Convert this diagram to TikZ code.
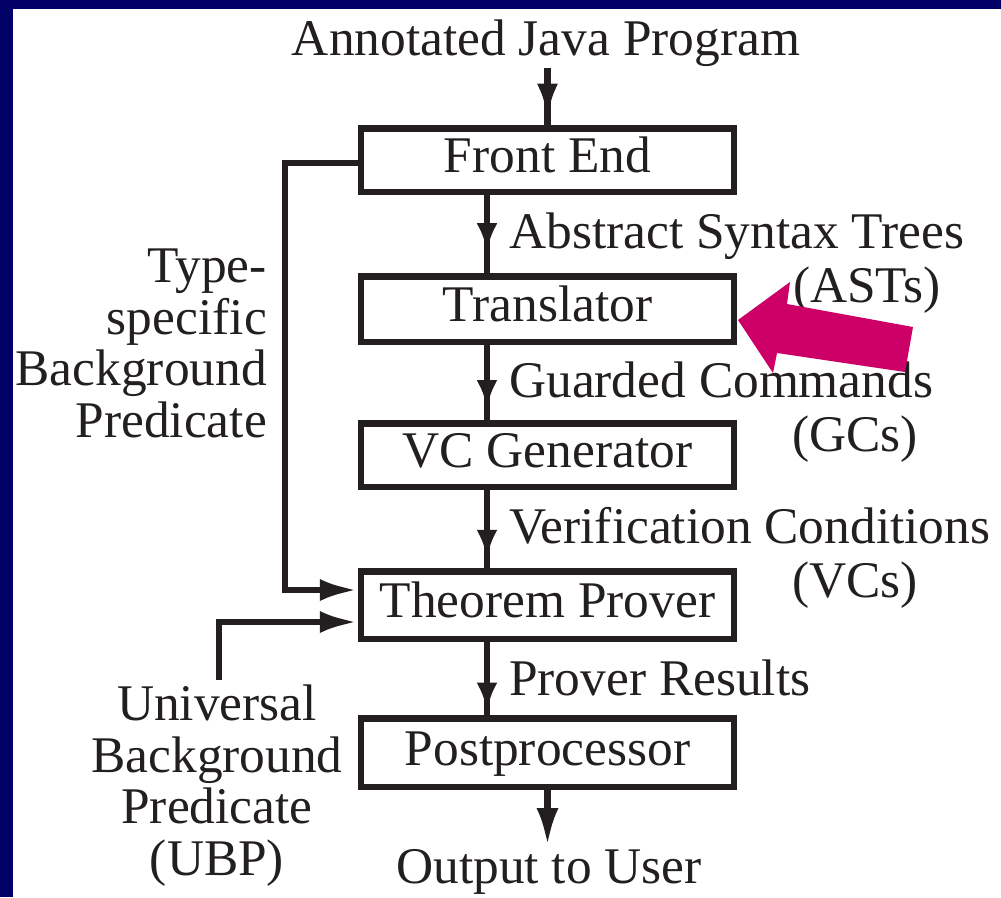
\documentclass[tikz,border=0pt]{standalone}
\usepackage{fontspec}
\setmainfont{Liberation Serif}
\usetikzlibrary{arrows.meta,decorations.markings}
\definecolor{navy}{HTML}{000066}
\definecolor{pinkarr}{HTML}{CC0066}
\definecolor{ink}{HTML}{231F20}
\newcommand\dgfont{\fontsize{51.4pt}{51.5pt}\selectfont}
\tikzset{
  box/.style={draw=ink, line width=6.5pt, minimum width=373pt, minimum height=64pt,
    inner sep=0pt, font=\dgfont, text height=38pt, text depth=13pt, text=ink},
  lbl/.style={font=\dgfont, text=ink, inner sep=0pt},
  conn/.style={draw=ink, line width=6.5pt},
  endtip/.style={-{Latex[length=38pt,width=22pt]}},
  midtip/.style={postaction={decorate}, decoration={markings,
    mark=at position #1 with {\arrow{Latex[length=28pt,width=21pt]}}}},
  toptip/.style={postaction={decorate}, decoration={markings,
    mark=at position #1 with {\arrow{Latex[length=34pt,width=21pt]}}}}
}
\begin{document}
\begin{tikzpicture}[x=1pt,y=-1pt]
\useasboundingbox (0,0) rectangle (1001,897);
\fill[white] (0,0) rectangle (1001,897);
\fill[navy] (0,0) rectangle (13,897);
\fill[navy] (0,0) rectangle (1001,9);

% boxes
\node[box, minimum height=63.5pt] (fe) at (547.5,160) {Front End};
\node[box, minimum height=65.5pt] (tr) at (547.5,309) {Translator};
\node[box, minimum height=63.5pt] (vc) at (547.5,455) {VC Generator};
\node[box, minimum height=67.5pt] (tp) at (547.5,605) {Theorem Prover};
\node[box, minimum height=68.5pt] (pp) at (547.5,752.5) {Postprocessor};

% labels
\node[lbl, anchor=base] (ajp) at (546,55) {Annotated Java Program};
\node[lbl, anchor=base west] (ast) at (509,248) {Abstract Syntax Trees};
\node[lbl, anchor=base] (asts) at (867,302) {(ASTs)};
\node[lbl, anchor=base west] (gc) at (509,397) {Guarded Commands};
\node[lbl, anchor=base] (gcs) at (855,451) {(GCs)};
\node[lbl, anchor=base west] (vcl) at (509,543) {Verification Conditions};
\node[lbl, anchor=base] (vcs) at (855,597) {(VCs)};
\node[lbl, anchor=base west] (pr) at (509,695) {Prover Results};
\node[lbl, anchor=base] (out) at (549,883) {Output to User};
\node[lbl, align=right, anchor=north east] (tsb) at (267,249) {Type-\\specific\\Background\\Predicate};
\node[lbl, align=center, anchor=north] (ubp) at (217,685) {Universal\\Background\\Predicate\\(UBP)};

% connectors
\coordinate (src) at (547.5,68);
\coordinate (sink) at (547.5,846);
\coordinate (ubptop) at (219,680);
\draw[conn, toptip=0.87] (src) -- (fe.north);
\draw[conn, midtip=0.72] ([xshift=-60.5pt]fe.south) -- ([xshift=-60.5pt]tr.north);
\draw[conn, midtip=0.84] ([xshift=-60.5pt]tr.south) -- ([xshift=-60.5pt]vc.north);
\draw[conn, midtip=0.87] ([xshift=-60.5pt]vc.south) -- ([xshift=-60.5pt]tp.north);
\draw[conn, midtip=0.94] ([xshift=-60.5pt]tp.south) -- ([xshift=-60.5pt]pp.north);
\draw[conn, endtip] (pp.south) -- (sink);
\draw[conn, endtip] ([yshift=-3pt]fe.west) -- ++(-73,0) |- ([yshift=15pt]tp.west);
\draw[conn, endtip] (ubptop) |- ([yshift=-17pt]tp.west);

% highlight arrow
\fill[pinkarr] (738,320) -- (790,282) -- (787,304) -- (913,327) -- (905,372) -- (777,353) -- (773,373) -- cycle;
\end{tikzpicture}
\end{document}
